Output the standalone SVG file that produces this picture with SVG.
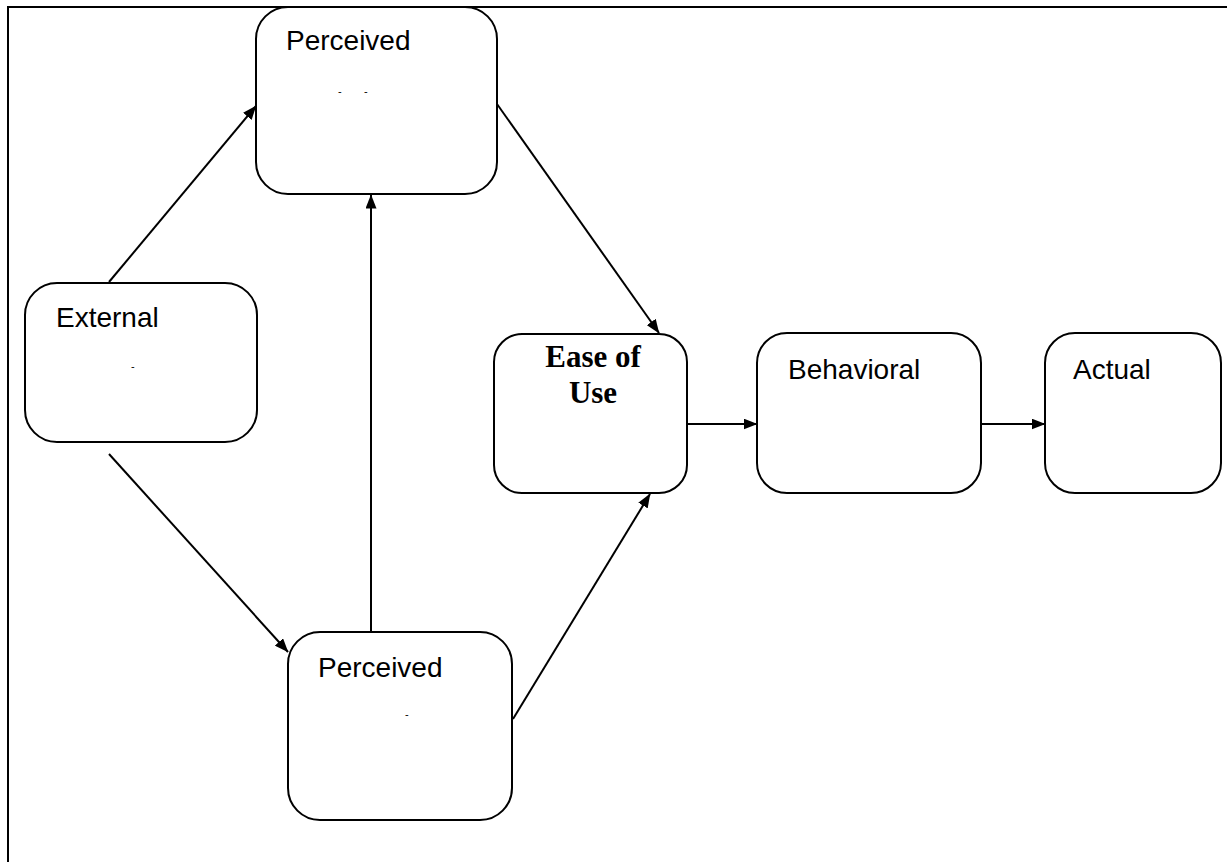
<svg xmlns="http://www.w3.org/2000/svg" width="1227" height="862" viewBox="0 0 1227 862">
<style>
.box{fill:#fff;stroke:#000;stroke-width:2}
.lbl{font-family:"Liberation Sans",Arial,sans-serif;font-size:28px;fill:#000}
.blbl{font-family:"Liberation Serif","Times New Roman",serif;font-size:31px;font-weight:bold;fill:#000}
.mark{font-family:"Liberation Sans",Arial,sans-serif;font-size:11px;fill:#000}
.conn{stroke:#000;stroke-width:2;fill:none;marker-end:url(#ah)}
.frame{stroke:#000;stroke-width:2;fill:none}
</style>
<defs>
<marker id="ah" viewBox="0 0 14 11" refX="13.5" refY="5.5" markerWidth="14" markerHeight="11" markerUnits="userSpaceOnUse" orient="auto">
<path d="M0,0 L14,5.5 L0,11 Z" fill="#000"/>
</marker>
</defs>
<rect width="1227" height="862" fill="#fff"/>
<g id="frame">
<path class="frame" d="M8,862 L8,7 L1227,7"/>
</g>
<g id="connectors">
<line class="conn" x1="109" y1="282" x2="256" y2="106"/>
<line class="conn" x1="497" y1="104" x2="659" y2="333"/>
<line class="conn" x1="109" y1="454" x2="288" y2="652"/>
<line class="conn" x1="371" y1="632" x2="371" y2="195"/>
<line class="conn" x1="513" y1="719" x2="650" y2="494"/>
<line class="conn" x1="687" y1="424" x2="757" y2="424"/>
<line class="conn" x1="981" y1="424" x2="1045" y2="424"/>
</g>
<g id="node-perceived-top">
<rect class="box" x="256" y="7" width="241" height="187" rx="32" ry="32"/>
<text class="lbl" x="286" y="50">Perceived</text>
<text class="mark" x="338" y="95">-</text>
<text class="mark" x="364" y="95">-</text>
</g>
<g id="node-external">
<rect class="box" x="25" y="283" width="232" height="159" rx="32" ry="32"/>
<text class="lbl" x="56" y="327">External</text>
<text class="mark" x="131" y="370">-</text>
</g>
<g id="node-perceived-bottom">
<rect class="box" x="288" y="632" width="224" height="188" rx="32" ry="32"/>
<text class="lbl" x="318" y="677">Perceived</text>
<text class="mark" x="405" y="718">-</text>
</g>
<g id="node-ease">
<rect class="box" x="494" y="334" width="193" height="159" rx="28" ry="28"/>
<text class="blbl" x="593" y="367" text-anchor="middle">Ease of</text>
<text class="blbl" x="593" y="403" text-anchor="middle">Use</text>
</g>
<g id="node-behavioral">
<rect class="box" x="757" y="333" width="224" height="160" rx="30" ry="30"/>
<text class="lbl" x="788" y="379">Behavioral</text>
</g>
<g id="node-actual">
<rect class="box" x="1045" y="333" width="176" height="160" rx="30" ry="30"/>
<text class="lbl" x="1073" y="379">Actual</text>
</g>
</svg>
